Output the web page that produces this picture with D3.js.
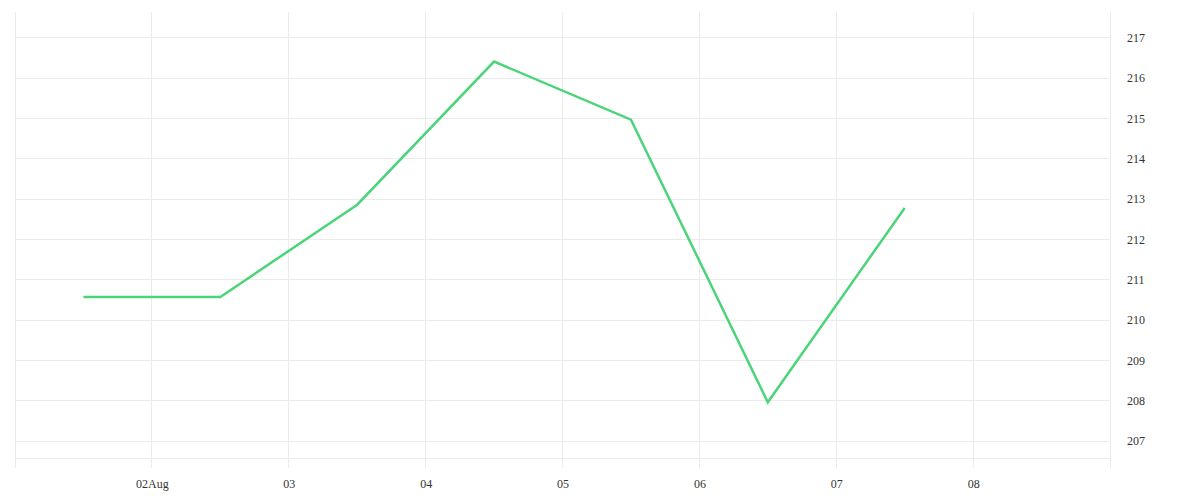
<!DOCTYPE html>
<html>
<head>
<meta charset="utf-8">
<script src="https://cdn.jsdelivr.net/npm/d3@7"></script>
<style>
  html, body { margin: 0; padding: 0; background: #fff; }
  svg { display: block; }
  text { font-family: "Liberation Serif", "DejaVu Serif", serif; font-size: 12px; fill: #333; }
</style>
</head>
<body>
<svg id="chart" width="1200" height="500"></svg>
<script>
// Data
const dates = ["2023-08-01T12:00", "2023-08-02T12:00", "2023-08-03T12:00", "2023-08-04T12:00", "2023-08-05T12:00", "2023-08-06T12:00", "2023-08-07T12:00"];
const values = [210.56, 210.56, 212.85, 216.40, 214.96, 207.95, 212.77];
const yTicks = [207, 208, 209, 210, 211, 212, 213, 214, 215, 216, 217];
const xTickDates = ["2023-08-02", "2023-08-03", "2023-08-04", "2023-08-05", "2023-08-06", "2023-08-07", "2023-08-08"];
const xTickLabels = ["02Aug", "03", "04", "05", "06", "07", "08"];
const xDomain = ["2023-08-01", "2023-08-09"];
const yDomain = [206.32, 217.63];

const parse = d3.utcParse("%Y-%m-%dT%H:%M");
const parseDay = d3.utcParse("%Y-%m-%d");
const data = dates.map((d, i) => ({ date: parse(d), value: values[i] }));

const svg = d3.select("#chart");
const mLeft = 15, mRight = 1110, mTop = 12, mBottom = 468;

const x = d3.scaleUtc().domain(xDomain.map(parseDay)).range([mLeft, mRight]);
const y = d3.scaleLinear().domain(yDomain).range([mBottom, mTop]);

const grid = svg.append("g").attr("stroke", "#ebebeb").attr("stroke-width", 1);

// horizontal gridlines
grid.selectAll(".hg").data(yTicks).join("line")
  .attr("x1", mLeft).attr("x2", mRight)
  .attr("y1", d => Math.round(y(d)) + 0.5).attr("y2", d => Math.round(y(d)) + 0.5);

// bottom frame line
grid.append("line")
  .attr("x1", mLeft).attr("x2", mRight)
  .attr("y1", mBottom - 9.5).attr("y2", mBottom - 9.5);

// vertical gridlines (incl. borders)
const vTicks = [parseDay(xDomain[0])].concat(xTickDates.map(parseDay)).concat([parseDay(xDomain[1])]);
grid.selectAll(".vg").data(vTicks).join("line")
  .attr("x1", d => Math.floor(x(d)) + 0.5).attr("x2", d => Math.floor(x(d)) + 0.5)
  .attr("y1", mTop).attr("y2", mBottom);

// y axis labels (right)
svg.append("g").selectAll("text").data(yTicks).join("text")
  .attr("x", mRight + 17)
  .attr("y", d => y(d) + 2)
  .attr("dominant-baseline", "middle")
  .text(d => d);

// x axis labels
svg.append("g").selectAll("text").data(xTickDates).join("text")
  .attr("x", d => x(parseDay(d)) + 0.5)
  .attr("y", 488)
  .attr("text-anchor", "middle")
  .text((d, i) => xTickLabels[i]);

// line
const line = d3.line().x(d => x(d.date)).y(d => y(d.value));
svg.append("path")
  .datum(data)
  .attr("fill", "none")
  .attr("stroke", "#4cd47b")
  .attr("stroke-width", 2.5)
  .attr("stroke-linejoin", "miter")
  .attr("d", line);
</script>
</body>
</html>
